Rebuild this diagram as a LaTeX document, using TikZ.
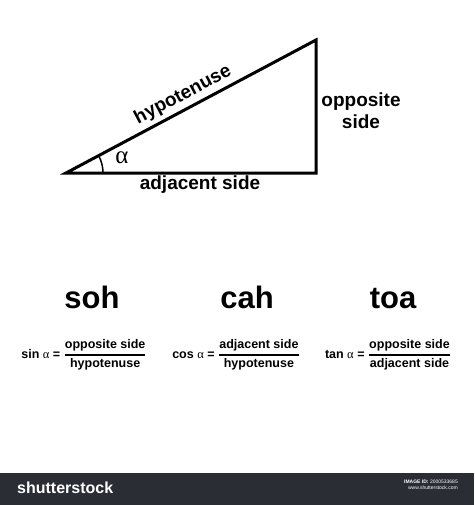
\documentclass[tikz,border=0pt]{standalone}
\usepackage{amsmath}
\usepackage{fontspec}
\setmainfont{Liberation Sans}
\newfontfamily\greekfont{Liberation Serif}
\usetikzlibrary{calc}
\definecolor{barcolor}{HTML}{2A2D34}
\newcommand{\ratio}[2]{\ensuremath{\genfrac{}{}{1.1pt}{0}{\text{#1}}{\text{#2}}}}
\newcommand{\alf}{{\greekfont\mdseries α}}

\begin{document}
\begin{tikzpicture}[x=1pt,y=-1pt,
  lbl/.style={font=\fontsize{19}{22}\selectfont\bfseries, inner sep=0pt},
  word/.style={font=\fontsize{31}{34}\selectfont\bfseries, inner sep=0pt, anchor=base},
  eqn/.style={font=\fontsize{12.5}{14}\selectfont\bfseries, inner sep=0pt}]
  \useasboundingbox[fill=white] (0,0) rectangle (474,505);

  % Corners of the triangle
  \coordinate (A) at (66,173);
  \coordinate (B) at (316,173);
  \coordinate (C) at (316,40);
  \draw[line width=3pt] (A) -- (B) -- (C) -- cycle;

  % Angle at A
  \draw[line width=1.5pt] ($(A)+(37,0)$) arc[start angle=0, end angle=28, radius=37pt];
  \node[font=\fontsize{25}{25}\selectfont, inner sep=0pt] (alpha) at (122,158) {\alf};

  % Side labels
  \node[lbl, rotate=28] (hyp) at (183,95) {hypotenuse};
  \node[lbl] (adj) at (200,185) {adjacent side};
  \node[lbl, align=center] (opp) at (361,111) {opposite\\side};

  % soh cah toa
  \node[word] (soh) at (92,308) {soh};
  \node[word] (cah) at (247,308) {cah};
  \node[word] (toa) at (393,308) {toa};

  % The three ratios
  \node[eqn] (sin) at (84,355) {sin \alf\ = \ratio{opposite side}{hypotenuse}};
  \node[eqn] (cos) at (236,355) {cos \alf\ = \ratio{adjacent side}{hypotenuse}};
  \node[eqn] (tan) at (388,355) {tan \alf\ = \ratio{opposite side}{adjacent side}};

  % Footer bar
  \fill[barcolor] (0,473) rectangle (474,505);
  \node[font=\fontsize{16}{16}\selectfont\bfseries, text=white, anchor=west, inner sep=0pt] (logo) at (17,488) {shutterstock};
  \node[font=\fontsize{5}{6}\selectfont, text=white, align=right, anchor=east, inner sep=0pt] (imgid) at (458,485) {\textbf{IMAGE ID:} 2000533685\\www.shutterstock.com};
\end{tikzpicture}
\end{document}
